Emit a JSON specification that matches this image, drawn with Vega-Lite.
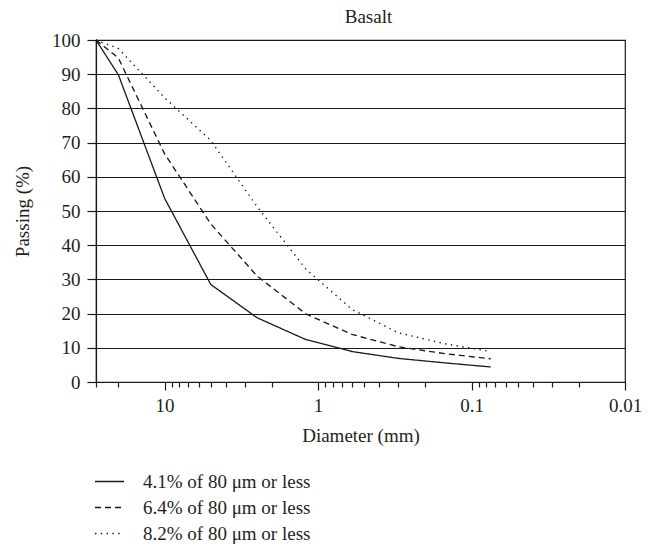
{
  "$schema": "https://vega.github.io/schema/vega-lite/v6.json",
  "autosize": "none",
  "width": 529,
  "height": 342,
  "padding": {"left": 96, "top": 40, "right": 31, "bottom": 165},
  "background": "white",
  "config": {
    "font": "Liberation Serif",
    "view": {"stroke": "#1a1a1a", "strokeWidth": 1.2},
    "axis": {"labelFont": "Liberation Serif", "titleFont": "Liberation Serif", "labelColor": "#231f20", "titleColor": "#231f20", "titleFontWeight": "normal", "domainColor": "#1a1a1a", "tickColor": "#1a1a1a", "domainWidth": 1.2, "tickWidth": 1.2}
  },
  "title": {"text": "Basalt", "fontSize": 19, "fontWeight": "normal", "font": "Liberation Serif", "color": "#231f20", "offset": 4, "dx": 8},
  "data": {
    "values": [
      {"d": 28, "p": 100, "s": "4.1% of 80 μm or less"},
      {"d": 20, "p": 89.8, "s": "4.1% of 80 μm or less"},
      {"d": 10, "p": 53.7, "s": "4.1% of 80 μm or less"},
      {"d": 5, "p": 28.5, "s": "4.1% of 80 μm or less"},
      {"d": 2.5, "p": 18.8, "s": "4.1% of 80 μm or less"},
      {"d": 1.2, "p": 12.4, "s": "4.1% of 80 μm or less"},
      {"d": 0.6, "p": 8.9, "s": "4.1% of 80 μm or less"},
      {"d": 0.3, "p": 6.9, "s": "4.1% of 80 μm or less"},
      {"d": 0.15, "p": 5.6, "s": "4.1% of 80 μm or less"},
      {"d": 0.075, "p": 4.4, "s": "4.1% of 80 μm or less"},
      {"d": 28, "p": 100, "s": "6.4% of 80 μm or less"},
      {"d": 20, "p": 94.7, "s": "6.4% of 80 μm or less"},
      {"d": 10, "p": 66.7, "s": "6.4% of 80 μm or less"},
      {"d": 5, "p": 46.2, "s": "6.4% of 80 μm or less"},
      {"d": 2.5, "p": 31, "s": "6.4% of 80 μm or less"},
      {"d": 1.2, "p": 19.9, "s": "6.4% of 80 μm or less"},
      {"d": 0.6, "p": 13.9, "s": "6.4% of 80 μm or less"},
      {"d": 0.3, "p": 10.3, "s": "6.4% of 80 μm or less"},
      {"d": 0.15, "p": 8.3, "s": "6.4% of 80 μm or less"},
      {"d": 0.075, "p": 6.8, "s": "6.4% of 80 μm or less"},
      {"d": 28, "p": 100, "s": "8.2% of 80 μm or less"},
      {"d": 20, "p": 97.5, "s": "8.2% of 80 μm or less"},
      {"d": 10, "p": 83.1, "s": "8.2% of 80 μm or less"},
      {"d": 5, "p": 70.6, "s": "8.2% of 80 μm or less"},
      {"d": 2.5, "p": 51.3, "s": "8.2% of 80 μm or less"},
      {"d": 1.2, "p": 33, "s": "8.2% of 80 μm or less"},
      {"d": 0.6, "p": 21.2, "s": "8.2% of 80 μm or less"},
      {"d": 0.3, "p": 14.4, "s": "8.2% of 80 μm or less"},
      {"d": 0.15, "p": 11.2, "s": "8.2% of 80 μm or less"},
      {"d": 0.075, "p": 8.9, "s": "8.2% of 80 μm or less"}
    ]
  },
  "mark": {"type": "line", "color": "#1a1a1a", "strokeCap": "butt"},
  "encoding": {
    "x": {
      "field": "d", "type": "quantitative",
      "scale": {"type": "log", "domain": [0.01, 28], "reverse": true, "nice": false},
      "axis": {
        "title": "Diameter (mm)", "titleFontSize": 19, "titlePadding": 11,
        "labelFontSize": 19, "labelPadding": 6, "grid": false,
        "values": [28, 20, 10, 9, 8, 7, 6, 5, 4, 3, 2, 1, 0.9, 0.8, 0.7, 0.6, 0.5, 0.4, 0.3, 0.2, 0.1, 0.09, 0.08, 0.07, 0.06, 0.05, 0.04, 0.03, 0.02, 0.01],
        "labelExpr": "datum.value == 10 ? '10' : datum.value == 1 ? '1' : datum.value == 0.1 ? '0.1' : datum.value == 0.01 ? '0.01' : ''",
        "tickSize": {"condition": {"test": "datum.value == 10 || datum.value == 1 || datum.value == 0.1 || datum.value == 0.01", "value": 8}, "value": 5},
        "labelFlush": false, "labelOverlap": false
      }
    },
    "y": {
      "field": "p", "type": "quantitative",
      "scale": {"domain": [0, 100], "nice": false},
      "axis": {
        "title": "Passing (%)", "titleFontSize": 19, "titlePadding": 19,
        "labelFontSize": 19, "labelPadding": 7, "tickSize": 9,
        "values": [0, 10, 20, 30, 40, 50, 60, 70, 80, 90, 100],
        "grid": true, "gridColor": "#1a1a1a", "gridWidth": 1.1, "gridOpacity": 1
      }
    },
    "strokeWidth": {
      "field": "s", "type": "nominal",
      "scale": {"domain": ["4.1% of 80 μm or less", "6.4% of 80 μm or less", "8.2% of 80 μm or less"], "range": [1.3, 1.4, 1.7]},
      "legend": null
    },
    "strokeDash": {
      "field": "s", "type": "nominal",
      "scale": {"domain": ["4.1% of 80 μm or less", "6.4% of 80 μm or less", "8.2% of 80 μm or less"], "range": [[1, 0], [6, 4], [1.4, 4.4]]},
      "legend": {
        "title": null, "orient": "none", "legendX": -2, "legendY": 426, "direction": "vertical",
        "symbolType": "stroke", "symbolSize": 841, "symbolStrokeWidth": 1.2, "symbolStrokeColor": "#1a1a1a",
        "labelFontSize": 19, "labelFont": "Liberation Serif", "labelColor": "#231f20", "labelOffset": 18,
        "rowPadding": -12, "padding": 0, "labelLimit": 400
      }
    }
  }
}
